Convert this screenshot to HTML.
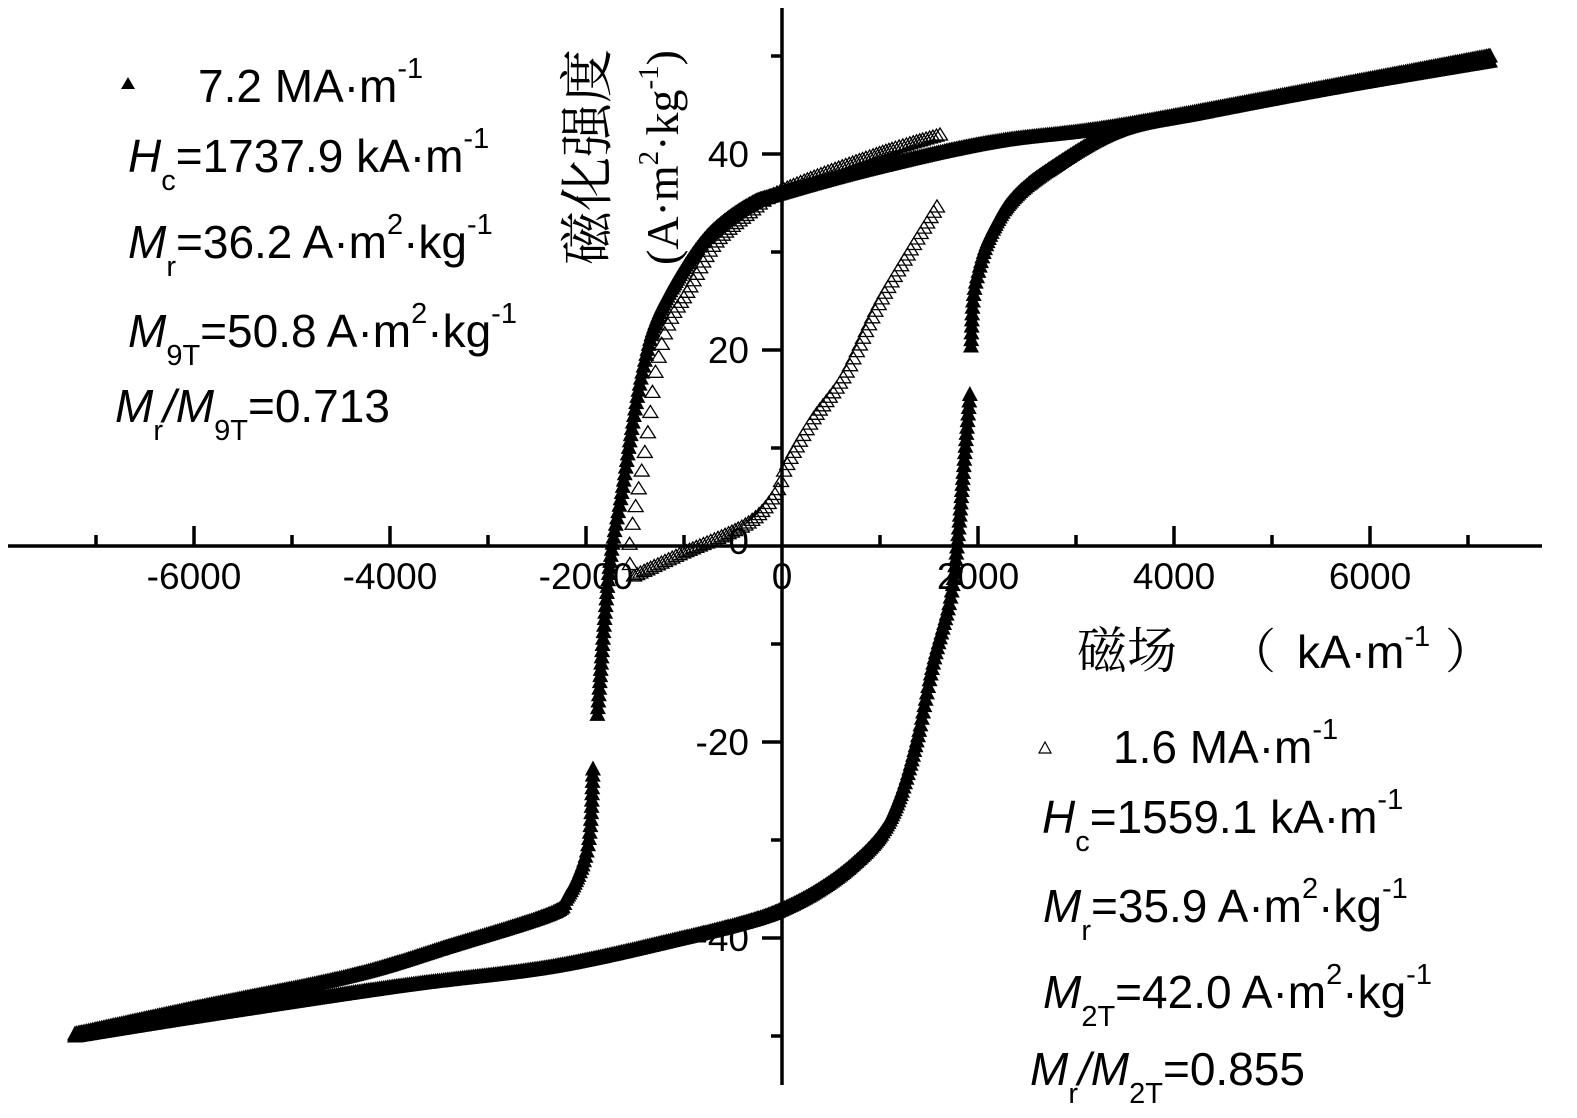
<!DOCTYPE html>
<html><head><meta charset="utf-8"><style>
html,body{margin:0;padding:0;background:#fff;}
svg{display:block;}
text{font-family:"Liberation Sans",Arial,sans-serif;fill:#000;}
.cj{font-family:"Noto Serif CJK SC","Liberation Serif",serif;}
</style></head><body>
<svg id="s" width="1577" height="1118" viewBox="0 0 1577 1118" xmlns="http://www.w3.org/2000/svg">
<g id="curves"></g>
<g stroke="#000" stroke-width="3.5" fill="none">
<line x1="8" y1="546" x2="1542" y2="546"/>
<line x1="782" y1="8" x2="782" y2="1085"/>
<line x1="194" y1="546" x2="194" y2="526"/><line x1="390" y1="546" x2="390" y2="526"/><line x1="586" y1="546" x2="586" y2="526"/>
<line x1="978" y1="546" x2="978" y2="526"/><line x1="1174" y1="546" x2="1174" y2="526"/><line x1="1370" y1="546" x2="1370" y2="526"/>
<line x1="96" y1="546" x2="96" y2="535"/><line x1="292" y1="546" x2="292" y2="535"/><line x1="488" y1="546" x2="488" y2="535"/><line x1="684" y1="546" x2="684" y2="535"/>
<line x1="880" y1="546" x2="880" y2="535"/><line x1="1076" y1="546" x2="1076" y2="535"/><line x1="1272" y1="546" x2="1272" y2="535"/><line x1="1468" y1="546" x2="1468" y2="535"/>
<line x1="782" y1="154" x2="762" y2="154"/><line x1="782" y1="350" x2="762" y2="350"/><line x1="782" y1="742" x2="762" y2="742"/><line x1="782" y1="938" x2="762" y2="938"/>
<line x1="782" y1="56" x2="771" y2="56"/><line x1="782" y1="252" x2="771" y2="252"/><line x1="782" y1="448" x2="771" y2="448"/><line x1="782" y1="644" x2="771" y2="644"/><line x1="782" y1="840" x2="771" y2="840"/><line x1="782" y1="1036" x2="771" y2="1036"/>
</g>
<g font-size="37">
<text x="194" y="589" text-anchor="middle">-6000</text>
<text x="390" y="589" text-anchor="middle">-4000</text>
<text x="586" y="589" text-anchor="middle">-2000</text>
<text x="782" y="589" text-anchor="middle">0</text>
<text x="978" y="589" text-anchor="middle">2000</text>
<text x="1174" y="589" text-anchor="middle">4000</text>
<text x="1370" y="589" text-anchor="middle">6000</text>
<text x="749" y="167" text-anchor="end">40</text>
<text x="749" y="363" text-anchor="end">20</text>
<text x="749" y="554" text-anchor="end">0</text>
<text x="749" y="755" text-anchor="end">-20</text>
<text x="749" y="951" text-anchor="end">-40</text>
</g>
<g transform="translate(606,265) rotate(-90)">
<text class="cj" x="0" y="0" font-size="54">磁化强度</text>
</g>
<g transform="translate(678,265) rotate(-90)">
<text x="0" y="0" font-size="46" style="font-family:'Liberation Serif',serif">(A·m<tspan dy="-20" font-size="29">2</tspan><tspan dy="20">·kg</tspan><tspan dy="-20" font-size="29">-1</tspan><tspan dy="20">)</tspan></text>
</g>
<text class="cj" x="1077" y="668" font-size="50">磁场</text>
<text class="cj" x="1228" y="668" font-size="48">（</text>
<text x="1297" y="668" font-size="46">kA·m<tspan dy="-22" font-size="29">-1</tspan></text>
<text class="cj" x="1445" y="668" font-size="48">）</text>
<polygon points="128,77 121,89 135,89" fill="#000"/>
<g font-size="46">
<text x="198" y="102">7.2 MA·m<tspan dy="-24" font-size="29">-1</tspan></text>
<text x="128" y="172"><tspan font-style="italic">H</tspan><tspan dy="18" font-size="29">c</tspan><tspan dy="-18">=1737.9 kA·m</tspan><tspan dy="-24" font-size="29">-1</tspan></text>
<text x="128" y="258"><tspan font-style="italic">M</tspan><tspan dy="18" font-size="29">r</tspan><tspan dy="-18">=36.2 A·m</tspan><tspan dy="-24" font-size="29">2</tspan><tspan dy="24">·kg</tspan><tspan dy="-24" font-size="29">-1</tspan></text>
<text x="128" y="347"><tspan font-style="italic">M</tspan><tspan dy="18" font-size="29">9T</tspan><tspan dy="-18">=50.8 A·m</tspan><tspan dy="-24" font-size="29">2</tspan><tspan dy="24">·kg</tspan><tspan dy="-24" font-size="29">-1</tspan></text>
<text x="115" y="422"><tspan font-style="italic">M</tspan><tspan dy="18" font-size="29">r</tspan><tspan dy="-18" font-style="italic">/M</tspan><tspan dy="18" font-size="29">9T</tspan><tspan dy="-18">=0.713</tspan></text>
</g>
<polygon points="1045,742 1039,753 1051,753" fill="#fff" stroke="#000" stroke-width="1.2"/>
<g font-size="46">
<text x="1113" y="763">1.6 MA·m<tspan dy="-24" font-size="29">-1</tspan></text>
<text x="1042" y="833"><tspan font-style="italic">H</tspan><tspan dy="18" font-size="29">c</tspan><tspan dy="-18">=1559.1 kA·m</tspan><tspan dy="-24" font-size="29">-1</tspan></text>
<text x="1043" y="922"><tspan font-style="italic">M</tspan><tspan dy="18" font-size="29">r</tspan><tspan dy="-18">=35.9 A·m</tspan><tspan dy="-24" font-size="29">2</tspan><tspan dy="24">·kg</tspan><tspan dy="-24" font-size="29">-1</tspan></text>
<text x="1043" y="1008"><tspan font-style="italic">M</tspan><tspan dy="18" font-size="29">2T</tspan><tspan dy="-18">=42.0 A·m</tspan><tspan dy="-24" font-size="29">2</tspan><tspan dy="24">·kg</tspan><tspan dy="-24" font-size="29">-1</tspan></text>
<text x="1030" y="1085"><tspan font-style="italic">M</tspan><tspan dy="18" font-size="29">r</tspan><tspan dy="-18" font-style="italic">/M</tspan><tspan dy="18" font-size="29">2T</tspan><tspan dy="-18">=0.855</tspan></text>
</g>
</svg>
<script>
(function(){
var g=document.getElementById('curves');var NS='http://www.w3.org/2000/svg';
function smooth(p){
  var out=[];
  for(var i=0;i<p.length-1;i++){
    var p0=p[Math.max(0,i-1)],p1=p[i],p2=p[i+1],p3=p[Math.min(p.length-1,i+2)];
    for(var k=0;k<20;k++){var t=k/20,t2=t*t,t3=t2*t;
      var f=function(a,b,c,d){return 0.5*((2*b)+(-a+c)*t+(2*a-5*b+4*c-d)*t2+(-a+3*b-3*c+d)*t3);};
      out.push([f(p0[0],p1[0],p2[0],p3[0]),f(p0[1],p1[1],p2[1],p3[1])]);}
  }
  out.push(p[p.length-1]);return out;
}
function place(pts0,dx,maxArc,filled,w,h){
  var pts=smooth(pts0);
  var out=[];var lx=pts[0][0],arc=0;out.push([lx,pts[0][1]]);
  for(var i=1;i<pts.length;i++){
    var a=pts[i-1],b=pts[i];var L=Math.hypot(b[0]-a[0],b[1]-a[1]);var n=Math.max(1,Math.ceil(L));
    for(var k=1;k<=n;k++){var t=k/n;var x=a[0]+(b[0]-a[0])*t,y=a[1]+(b[1]-a[1])*t;
      arc+=L/n;
      if(Math.abs(x-lx)>=dx||arc>=maxArc){out.push([x,y]);lx=x;arc=0;}
    }
  }
  var s='';
  out.forEach(function(p){var x=p[0],y=p[1];
    s+='M'+x+' '+(y-h/2)+'L'+(x-w/2)+' '+(y+h/2)+'L'+(x+w/2)+' '+(y+h/2)+'Z';
  });
  var p=document.createElementNS(NS,'path');p.setAttribute('d',s);
  if(filled){p.setAttribute('fill','#000');}else{p.setAttribute('fill','#fff');p.setAttribute('stroke','#000');p.setAttribute('stroke-width','1.3');}
  g.appendChild(p);
}
place([[937,206],[904,260],[878,305],[845,374],[812,420],[786,466],[776,492],[747,523],[681,553],[632,576]],3,30,false,15,12);
place([[940,134],[878,153],[783,189],[747,214],[714,244],[688,290],[668,324],[655,374],[648,431],[638,492],[632,527],[629,553],[632,576]],3,20,false,15,12);
place([[1490,55],[1337,84],[1117,125],[993,141],[878,166],[782,192],[747,205],[707,236],[675,282],[655,323],[642,372],[632,426],[622,490],[612,546],[605,613],[597,719]],1.2,6,true,16,15);
place([[593,768],[590,829],[583,863],[567,896],[550,913],[450,945],[350,975],[200,1006],[75,1033]],1.2,6,true,16,15);
place([[75,1035],[200,1015],[400,985],[550,966],[683,937],[750,920],[783,908],[817,890],[850,866],[880,835],[900,796],[917,739],[933,663],[950,599],[957,546],[965,450],[970,392]],1.2,6,true,16,15);
place([[971,345],[973,300],[978,272],[990,235],[1012,199],[1050,168],[1117,130],[1200,112],[1337,86],[1490,60]],1.2,6,true,16,15);
})();
</script>
</body></html>
